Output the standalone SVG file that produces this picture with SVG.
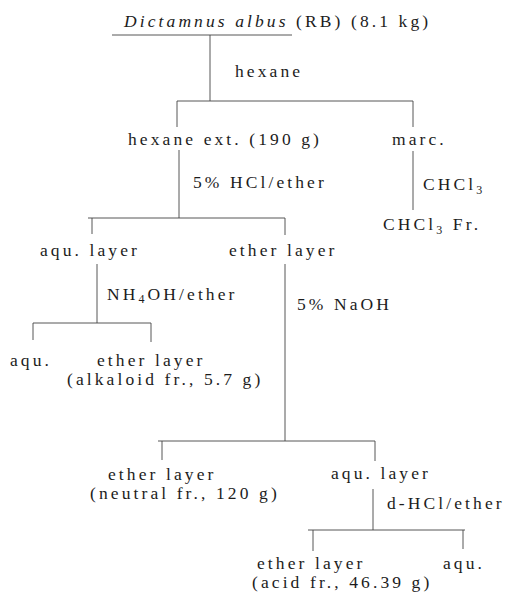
<svg xmlns="http://www.w3.org/2000/svg" width="506" height="597" viewBox="0 0 506 597">
<style>
text{font-family:"Liberation Serif","Times New Roman",serif;font-size:17.5px;fill:#1c1c1c;letter-spacing:3.1px}
.it{font-style:italic}
.sub{font-size:12px}
#connectors line{stroke:#444;stroke-width:0.9}
</style>
<rect width="506" height="597" fill="#ffffff"/>
<g id="connectors">
  <line x1="112" y1="35" x2="292" y2="35"/>
  <line x1="210" y1="35" x2="210" y2="101"/>
  <line x1="177" y1="101" x2="413" y2="101"/>
  <line x1="177" y1="101" x2="177" y2="127"/>
  <line x1="413" y1="101" x2="413" y2="127"/>
  <line x1="179" y1="150" x2="179" y2="218"/>
  <line x1="413" y1="151" x2="413" y2="210"/>
  <line x1="88" y1="218" x2="285" y2="218"/>
  <line x1="92" y1="218" x2="92" y2="234"/>
  <line x1="285" y1="218" x2="285" y2="235"/>
  <line x1="97" y1="264" x2="97" y2="323"/>
  <line x1="285" y1="264" x2="285" y2="441"/>
  <line x1="33" y1="323" x2="151" y2="323"/>
  <line x1="33" y1="323" x2="33" y2="340"/>
  <line x1="151" y1="323" x2="151" y2="342"/>
  <line x1="158" y1="441" x2="375" y2="441"/>
  <line x1="162" y1="441" x2="162" y2="460"/>
  <line x1="375" y1="441" x2="375" y2="461"/>
  <line x1="373" y1="489" x2="373" y2="530"/>
  <line x1="308" y1="530" x2="465" y2="530"/>
  <line x1="313" y1="530" x2="313" y2="551"/>
  <line x1="463" y1="530" x2="463" y2="549"/>
  <text x="235" y="77">hexane</text>
  <text x="193" y="188">5% HCl/ether</text>
  <text x="423" y="190">CHCl<tspan class="sub" dy="4">3</tspan></text>
  <text x="107" y="300">NH<tspan class="sub" dy="3">4</tspan><tspan dy="-3">OH/ether</tspan></text>
  <text x="297" y="310">5% NaOH</text>
  <text x="387" y="509">d-HCl/ether</text>
</g>
<g id="n-source"><text x="124" y="27"><tspan class="it">Dictamnus albus</tspan> (RB) (8.1 kg)</text></g>
<g id="n-hexane-ext"><text x="128" y="145">hexane ext. (190 g)</text></g>
<g id="n-marc"><text x="392" y="145">marc.</text></g>
<g id="n-chcl3-fr"><text x="383" y="230">CHCl<tspan class="sub" dy="4">3</tspan><tspan dy="-4"> Fr.</tspan></text></g>
<g id="n-aqu-layer-1"><text x="40" y="256">aqu. layer</text></g>
<g id="n-ether-layer-1"><text x="229" y="256">ether layer</text></g>
<g id="n-aqu-2"><text x="10" y="366">aqu.</text></g>
<g id="n-alkaloid"><text x="97" y="366">ether layer</text><text x="67" y="385">(alkaloid fr., 5.7 g)</text></g>
<g id="n-neutral"><text x="108" y="480">ether layer</text><text x="90" y="499">(neutral fr., 120 g)</text></g>
<g id="n-aqu-layer-3"><text x="331" y="479">aqu. layer</text></g>
<g id="n-acid"><text x="257" y="569">ether layer</text><text x="252" y="588">(acid fr., 46.39 g)</text></g>
<g id="n-aqu-4"><text x="443" y="569">aqu.</text></g>
</svg>
